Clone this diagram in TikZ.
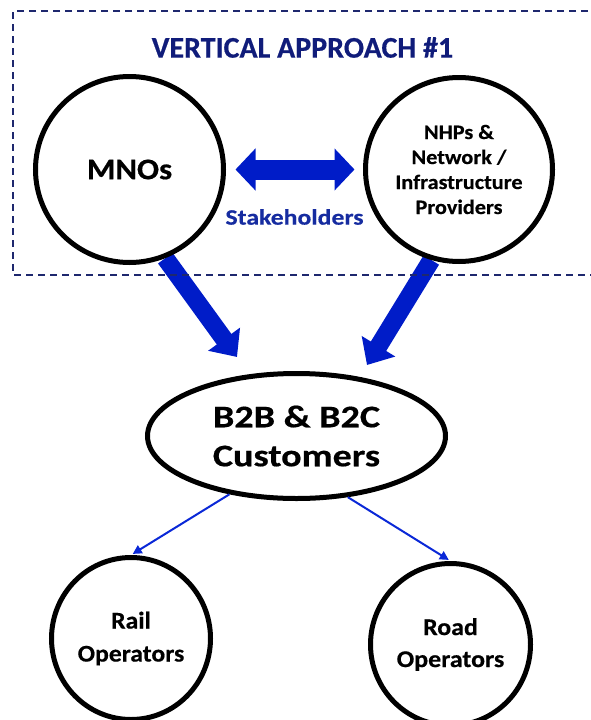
\documentclass[tikz,border=0pt]{standalone}
\usepackage{fontspec}
\setmainfont{Carlito}
\usetikzlibrary{arrows.meta,shapes.geometric}
\definecolor{navy}{RGB}{16,28,122}
\definecolor{dashnavy}{RGB}{30,40,110}
\definecolor{arrowblue}{RGB}{0,28,200}
\definecolor{stakeblue}{RGB}{22,44,160}
\definecolor{thinblue}{RGB}{10,40,215}
\pgfdeclarelayer{bg}
\pgfsetlayers{bg,main}
\newcommand\wide[1]{\addfontfeatures{FakeStretch=#1,FakeBold=0.5}}
\begin{document}
\begin{tikzpicture}[x=1pt,y=-1pt,
  circ/.style={draw=black, line width=5pt, ellipse, inner sep=0pt, fill=white, align=center},
  bigarrow/.style={draw=arrowblue, line width=18pt, -{Triangle[length=22pt,width=38pt]}},
  dblarrow/.style={draw=arrowblue, line width=20pt, {Triangle[length=20pt,width=41pt]}-{Triangle[length=20pt,width=41pt]}},
  thinarrow/.style={draw=thinblue, line width=2pt, -{Triangle[length=9pt,width=9pt]}},
  boxline/.style={draw=dashnavy, line width=1.2pt, dash pattern=on 7pt off 5pt}
]
\useasboundingbox (0,0) rectangle (590,720);

\node[font=\bfseries\fontsize{30}{36}\selectfont\wide{1.0}, text=navy] (title) at (302.5,47.5) {VERTICAL APPROACH \#1};

\node[circ, minimum width=188pt, minimum height=186pt, font=\bfseries\fontsize{30}{36}\selectfont\wide{1.09}] (mno) at (129.5,169.5) {MNOs};
\node[circ, minimum width=187pt, minimum height=184pt, font=\bfseries\fontsize{20.5}{25}\selectfont\wide{1.085}] (nhp) at (459,169.5) {NHPs \&\\Network /\\Infrastructure\\Providers};
\node[font=\bfseries\fontsize{22}{26}\selectfont\wide{1.17}, text=stakeblue] (stake) at (294.5,217) {Stakeholders};

\node[circ, minimum width=298pt, minimum height=125pt, font=\bfseries\fontsize{31.5}{39}\selectfont\wide{1.21}] (b2b) at (296.5,436) {B2B \& B2C\\Customers};

\node[circ, minimum width=159pt, minimum height=162pt, font=\bfseries\fontsize{24}{33}\selectfont\wide{1.07}] (rail) at (131,638.5) {Rail\\Operators};
\node[circ, minimum width=160pt, minimum height=162pt, font=\bfseries\fontsize{24}{32}\selectfont\wide{1.08}] (road) at (450.5,644.5) {Road\\Operators};

\coordinate (t1) at (237,357);
\coordinate (t2) at (367,365);

\begin{pgfonlayer}{bg}
\draw[bigarrow] (mno.-68) -- (t1);
\draw[bigarrow] (nhp.-107) -- (t2);
\end{pgfonlayer}

\draw[dblarrow, shorten <=9.5pt, shorten >=8.5pt] (mno.east) -- (nhp.west);

\draw[thinarrow, shorten >=2pt] (b2b.-139) -- (rail.north);
\draw[thinarrow, shorten >=2pt] (b2b.-50) -- (road.north);

\draw[boxline] (600,11) -- (13,11) -- (13,275) -- (600,275);
\end{tikzpicture}
\end{document}
